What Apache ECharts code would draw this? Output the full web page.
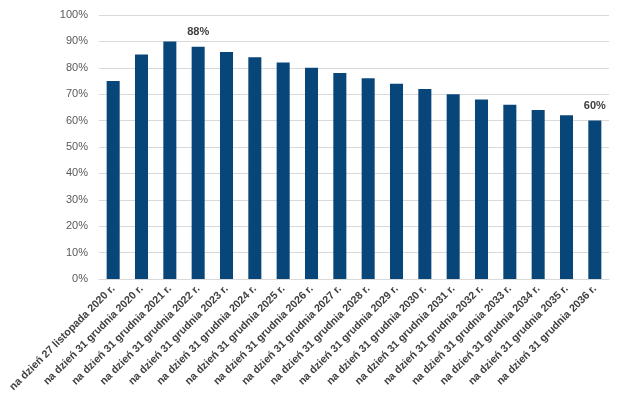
<!DOCTYPE html>
<html><head><meta charset="utf-8">
<script src="https://cdn.jsdelivr.net/npm/echarts@6/dist/echarts.min.js"></script>
<style>html,body{margin:0;padding:0;background:#fff}#c{width:623px;height:407px}</style>
</head><body><div id="c"></div>
<script>
const categories = ["na dzień 27 listopada 2020 r.","na dzień 31 grudnia 2020 r.","na dzień 31 grudnia 2021 r.","na dzień 31 grudnia 2022 r.","na dzień 31 grudnia 2023 r.","na dzień 31 grudnia 2024 r.","na dzień 31 grudnia 2025 r.","na dzień 31 grudnia 2026 r.","na dzień 31 grudnia 2027 r.","na dzień 31 grudnia 2028 r.","na dzień 31 grudnia 2029 r.","na dzień 31 grudnia 2030 r.","na dzień 31 grudnia 2031 r.","na dzień 31 grudnia 2032 r.","na dzień 31 grudnia 2033 r.","na dzień 31 grudnia 2034 r.","na dzień 31 grudnia 2035 r.","na dzień 31 grudnia 2036 r."];
const values = [75,85,90,88,86,84,82,80,78,76,74,72,70,68,66,64,62,60];
const labeledIndices = [3,17];
const chart = echarts.init(document.getElementById('c'));
chart.setOption({
  animation:false,
  grid:{left:99,right:14,top:15,bottom:128,containLabel:false},
  xAxis:{type:'category',data:categories,
    axisLine:{lineStyle:{color:'#d9d9d9'}},axisTick:{show:false},
    axisLabel:{rotate:45,interval:0,fontFamily:'Liberation Sans',fontWeight:'bold',fontSize:10.7,color:'#404040',margin:8}},
  yAxis:{type:'value',min:0,max:100,interval:10,
    axisLabel:{formatter:'{value}%',fontFamily:'Liberation Sans',fontSize:11,color:'#595959',margin:11},
    splitLine:{lineStyle:{color:'#d9d9d9'}},axisLine:{show:false},axisTick:{show:false}},
  series:[{type:'bar',barCategoryGap:'54%',
    data:values.map((v,i)=>({value:v,label:{show:labeledIndices.includes(i)}})),
    itemStyle:{color:'#08467a'},
    label:{position:'top',formatter:'{c}%',fontFamily:'Liberation Sans',fontWeight:'bold',fontSize:11,color:'#404040',distance:9}}]
});
</script></body></html>
